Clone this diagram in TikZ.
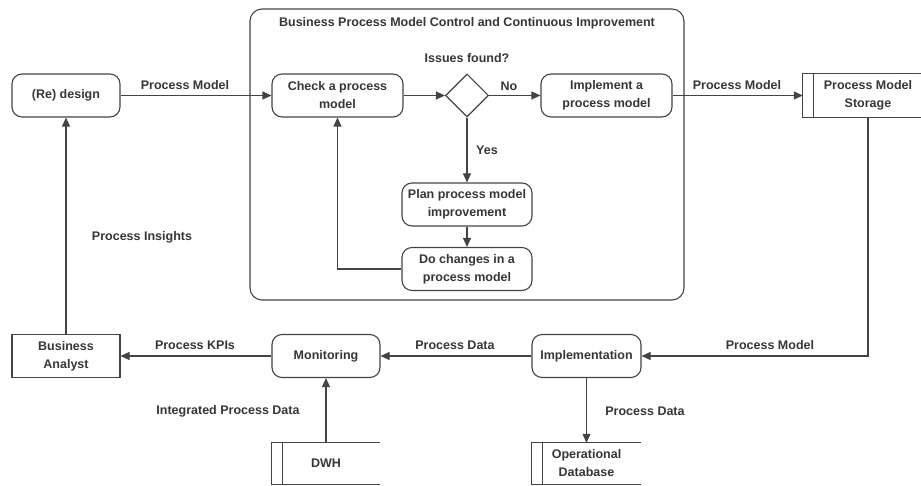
\documentclass[tikz,border=0pt]{standalone}
\usepackage{fontspec}
\setmainfont{Liberation Sans}
\usetikzlibrary{arrows.meta,shapes.geometric}
\definecolor{ink}{HTML}{363636}
\definecolor{wire}{HTML}{444444}
\tikzset{
    txt/.style={font=\fontsize{12.5}{18}\selectfont\bfseries, text=ink, align=center},
    box/.style={txt, draw=wire, line width=1.1pt, minimum width=#1, minimum height=43pt, inner sep=0pt},
    proc/.style={box=#1, rounded corners=10pt},
    actor/.style={box=108pt},
    store/.style={txt, minimum width=#1, minimum height=43pt, inner sep=0pt},
    decision/.style={diamond, draw=wire, line width=1.1pt, minimum width=43pt, minimum height=43pt, inner sep=0pt},
    wireline/.style={draw=wire, line width=1.1pt},
    flow/.style={wireline, -{Triangle[length=9pt,width=8pt]}}
}
\begin{document}
\begin{tikzpicture}[x=1pt,y=-1pt]
    \useasboundingbox (0,0) rectangle (921,486);
    \draw[wireline, rounded corners=12pt] (250,9) rectangle (684,300);
    \node[txt] (title) at (467,23) {Business Process Model Control and Continuous Improvement};
    \node[proc=108pt] (design) at (66,95.5) {(Re) design};
    \node[proc=131pt] (check) at (337.5,95.5) {Check a process\\model};
    \node[decision] (issues) at (467,95.5) {};
    \node[txt] (question) at (467,58) {Issues found?};
    \node[proc=131pt] (impl) at (606.5,95.5) {Implement a\\process model};
    \node[store=130pt] (storage) at (868,95.5) {Process Model\\Storage};
    \node[proc=130pt] (plan) at (467,204.5) {Plan process model\\improvement};
    \node[proc=130pt] (changes) at (467,269) {Do changes in a\\process model};
    \node[proc=109pt] (implementation) at (586.5,356) {Implementation};
    \node[proc=108pt] (monitor) at (326,356) {Monitoring};
    \node[actor] (analyst) at (66,356) {Business\\Analyst};
    \node[store=108pt, minimum height=41pt] (dwh) at (326,463.5) {DWH};
    \node[store=109pt, minimum height=41pt] (opdb) at (586.5,463.5) {Operational\\Database};
    \foreach \s in {storage,dwh,opdb}
        \draw[wireline] (\s.north east) -- (\s.north west) -- (\s.south west) -- (\s.south east)
            ([xshift=10.5pt]\s.north west) -- ([xshift=10.5pt]\s.south west);

    \draw[flow] (design) -- (check);
    \draw[flow] (check) -- (issues);
    \draw[flow] (issues) -- (impl);
    \draw[flow] (impl) -- (storage);
    \draw[flow] (issues) -- (plan);
    \draw[flow] (plan) -- (changes);
    \draw[flow] (changes.west) -| (check.south);
    \draw[flow] (storage.south) |- (implementation.east);
    \draw[flow] (implementation) -- (monitor);
    \draw[flow] (monitor) -- (analyst);
    \draw[flow] (analyst) -- (design);
    \draw[flow] (dwh) -- (monitor);
    \draw[flow] (implementation) -- (opdb);

    \node[txt] (modelA) at (185,85) {Process Model};
    \node[txt] (no) at (509,86) {No};
    \node[txt] (modelB) at (737,85) {Process Model};
    \node[txt] (yes) at (487,150) {Yes};
    \node[txt] (insights) at (142,237) {Process Insights};
    \node[txt] (kpis) at (195,345) {Process KPIs};
    \node[txt] (dataA) at (455,345) {Process Data};
    \node[txt] (modelC) at (770,345) {Process Model};
    \node[txt] (integrated) at (228,411) {Integrated Process Data};
    \node[txt] (dataB) at (645,411) {Process Data};
\end{tikzpicture}
\end{document}
